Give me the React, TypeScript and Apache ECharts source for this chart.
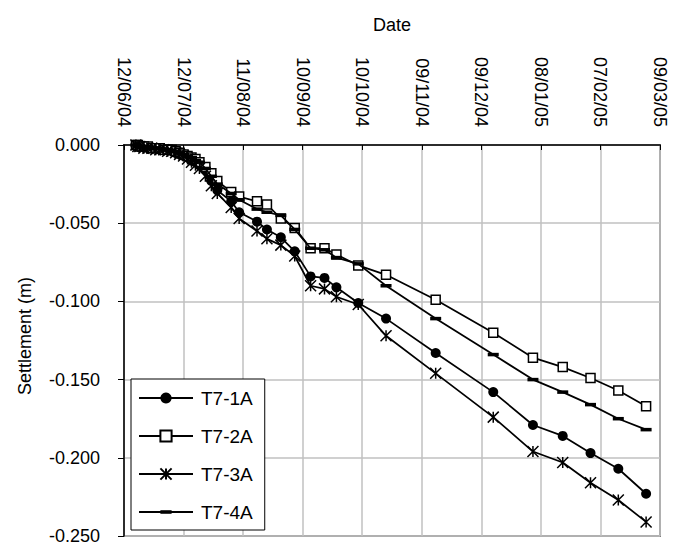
import React, { useEffect, useRef } from "react";
import * as echarts from "echarts";

// ---- data ----
const startDate = "2004-06-12"; // x axis origin (first tick)
const endDate = "2005-03-09"; // last tick
const tickDays = 30;

const dates = [
  "2004-06-18", "2004-06-19", "2004-06-20", "2004-06-22", "2004-06-24", "2004-06-26",
  "2004-06-28", "2004-06-30", "2004-07-02", "2004-07-04", "2004-07-06", "2004-07-08",
  "2004-07-10", "2004-07-12", "2004-07-14", "2004-07-16", "2004-07-18", "2004-07-20",
  "2004-07-23", "2004-07-26", "2004-07-29", "2004-08-05", "2004-08-09", "2004-08-18",
  "2004-08-23", "2004-08-30", "2004-09-06", "2004-09-14", "2004-09-21", "2004-09-27",
  "2004-10-08", "2004-10-22", "2004-11-16", "2004-12-15", "2005-01-04", "2005-01-19",
  "2005-02-02", "2005-02-16", "2005-03-02",
];

const t7_1A = [
  0, -0.001, -0.001, -0.001, -0.002, -0.002, -0.002, -0.003, -0.003, -0.003, -0.004, -0.005,
  -0.006, -0.007, -0.008, -0.010, -0.011, -0.013,
  -0.016, -0.023, -0.029, -0.036, -0.043, -0.049, -0.054, -0.059, -0.068, -0.084, -0.085,
  -0.091, -0.101, -0.111, -0.133, -0.158, -0.179, -0.186, -0.197, -0.207, -0.223,
];
const t7_2A = [
  0, 0, -0.001, -0.001, -0.001, -0.002, -0.002, -0.002, -0.003, -0.003, -0.003, -0.004,
  -0.005, -0.006, -0.007, -0.008, -0.009, -0.011,
  -0.014, -0.018, -0.023, -0.030, -0.033, -0.036, -0.038, -0.047, -0.053, -0.066, -0.066,
  -0.070, -0.077, -0.083, -0.099, -0.120, -0.136, -0.142, -0.149, -0.157, -0.167,
];
const t7_3A = [
  0, -0.001, -0.001, -0.002, -0.002, -0.002, -0.003, -0.003, -0.003, -0.004, -0.004, -0.005,
  -0.006, -0.007, -0.009, -0.011, -0.013, -0.015,
  -0.020, -0.026, -0.031, -0.040, -0.047, -0.055, -0.060, -0.064, -0.071, -0.090, -0.092,
  -0.097, -0.102, -0.122, -0.146, -0.174, -0.196, -0.203, -0.216, -0.227, -0.241,
];
const t7_4A = [
  0, -0.001, -0.001, -0.001, -0.001, -0.002, -0.002, -0.002, -0.003, -0.003, -0.004, -0.004,
  -0.005, -0.006, -0.007, -0.008, -0.010, -0.011,
  -0.015, -0.020, -0.025, -0.031, -0.035, -0.041, -0.043, -0.045, -0.054, -0.066, -0.067,
  -0.072, -0.076, -0.090, -0.111, -0.134, -0.150, -0.158, -0.166, -0.175, -0.182,
];

const seriesNames = ["T7-1A", "T7-2A", "T7-3A", "T7-4A"];
const yMin = -0.25;
const yMax = 0;
const yStep = 0.05;
const xTitle = "Date";
const yTitle = "Settlement (m)";

// ---- helpers ----
const DAY = 86400000;
const toUTC = (s: string) => {
  const [y, m, d] = s.split("-").map(Number);
  return Date.UTC(y, m - 1, d);
};
const origin = toUTC(startDate);
const dayOf = (s: string) => Math.round((toUTC(s) - origin) / DAY);
const pad = (n: number) => (n < 10 ? "0" + n : "" + n);
const fmtDay = (v: number) => {
  const d = new Date(origin + Math.round(v) * DAY);
  return pad(d.getUTCDate()) + "/" + pad(d.getUTCMonth() + 1) + "/" + pad(d.getUTCFullYear() % 100);
};

const FONT = "'Liberation Sans', Arial, Helvetica, sans-serif";

const asteriskPath = "path://M5 0L5 10M0 0L10 10M10 0L0 10";
const dashPath = "path://M0 0M10 10M0 3.4L10 3.4L10 6.6L0 6.6Z";

export default function App() {
  const ref = useRef<HTMLDivElement>(null);

  useEffect(() => {
    if (!ref.current) return;
    const chart = echarts.init(ref.current, undefined, { renderer: "svg" });

    const values = [t7_1A, t7_2A, t7_3A, t7_4A];
    const symbolDefs: any[] = [
      { symbol: "circle", symbolSize: 10, itemStyle: { color: "#000", borderColor: "#000", borderWidth: 0 } },
      { symbol: "rect", symbolSize: 9, itemStyle: { color: "#fff", borderColor: "#000", borderWidth: 1.5 } },
      { symbol: asteriskPath, symbolSize: 11, itemStyle: { color: "rgba(0,0,0,0)", borderColor: "#000", borderWidth: 1.5 } },
      { symbol: dashPath, symbolSize: 11, itemStyle: { color: "#000", borderColor: "#000", borderWidth: 0 } },
    ];

    const series = seriesNames.map((name, k) => ({
      name,
      type: "line",
      data: dates.map((d, i) => [dayOf(d), values[k][i]]),
      ...symbolDefs[k],
      showAllSymbol: true,
      lineStyle: { color: "#000", width: 1.75 },
      emphasis: { disabled: true },
      z: 3 + k,
    }));

    chart.setOption({
      animation: false,
      backgroundColor: "#fff",
      textStyle: { fontFamily: FONT, color: "#000" },
      grid: {
        left: 124,
        right: 17,
        top: 145,
        bottom: 6,
        show: true,
        borderColor: "#808080",
        borderWidth: 2,
        backgroundColor: "rgba(0,0,0,0)",
      },
      xAxis: {
        type: "value",
        position: "top",
        min: 0,
        max: dayOf(endDate),
        interval: tickDays,
        axisLine: { show: true, onZero: false, lineStyle: { color: "#000", width: 1.5 } },
        axisTick: { show: true, inside: true, length: 5, lineStyle: { color: "#000", width: 1 } },
        axisLabel: {
          rotate: 90,
          margin: 18,
          fontSize: 18,
          fontFamily: FONT,
          color: "#000",
          padding: [0, 0, 7, 0],
          formatter: (v: number) => fmtDay(v),
        },
        splitLine: { show: true, lineStyle: { color: "#c0c0c0", width: 1.5 } },
      },
      yAxis: {
        type: "value",
        min: yMin,
        max: yMax,
        interval: yStep,
        axisLine: { show: true, onZero: false, lineStyle: { color: "#000", width: 1.5 } },
        axisTick: { show: true, inside: false, length: 6, lineStyle: { color: "#000", width: 1 } },
        axisLabel: {
          margin: 24,
          fontSize: 18,
          fontFamily: FONT,
          color: "#000",
          formatter: (v: number) => (Math.abs(v) < 1e-9 ? "0.000" : v.toFixed(3)),
        },
        splitLine: { show: true, lineStyle: { color: "#c0c0c0", width: 1.5 } },
      },
      legend: {
        orient: "vertical",
        left: 131,
        top: 379,
        padding: [9, 12, 8, 7],
        itemWidth: 54,
        itemHeight: 14,
        itemGap: 18,
        backgroundColor: "#fff",
        borderColor: "#000",
        borderWidth: 1,
        borderRadius: 0,
        data: seriesNames,
        textStyle: { fontSize: 19, fontFamily: FONT, color: "#000", lineHeight: 20, padding: [0, 0, 0, 3] },
      },
      graphic: [
        {
          type: "text",
          x: 392,
          y: 25,
          style: { text: xTitle, fill: "#000", fontSize: 18, fontFamily: FONT, align: "center", verticalAlign: "middle" },
        },
        {
          type: "text",
          x: 25,
          y: 336,
          rotation: Math.PI / 2,
          style: { text: yTitle, fill: "#000", fontSize: 18, fontFamily: FONT, align: "center", verticalAlign: "middle" },
        },
      ],
      series,
    });

    return () => chart.dispose();
  }, []);

  return (
    <div
      ref={ref}
      style={{ position: "absolute", left: 0, top: 0, width: 677, height: 545, background: "#fff" }}
    />
  );
}
